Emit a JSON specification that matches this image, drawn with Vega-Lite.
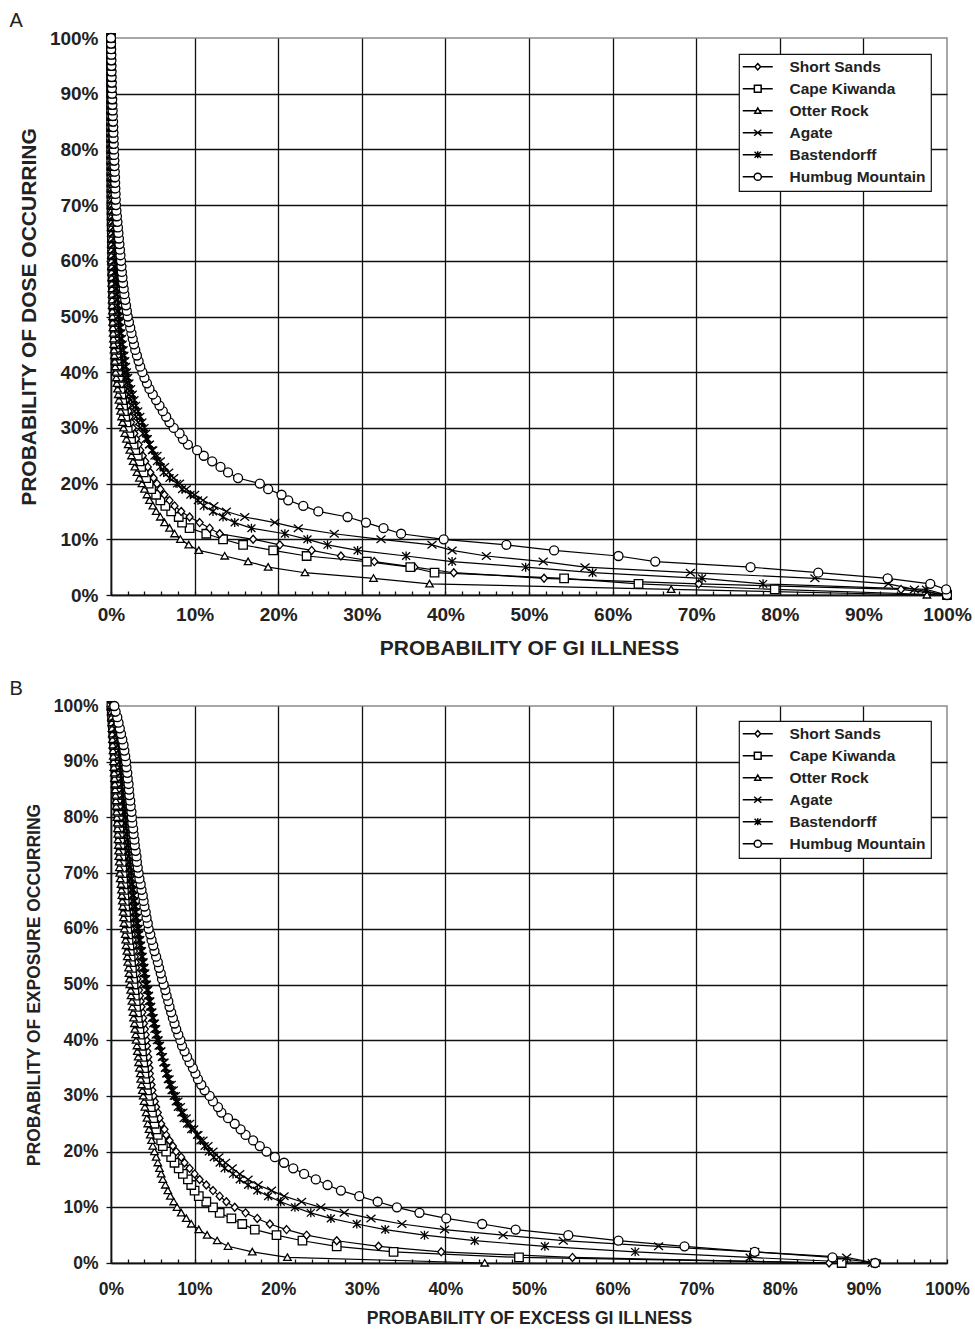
{
"$schema": "https://vega.github.io/schema/vega-lite/v6.json",
"padding": {"left": 8, "top": 9, "right": 0, "bottom": 0},
"autosize": {"type": "pad"},
"bounds": "flush",
"spacing": 111,
"config": {
  "font": "Liberation Sans",
  "view": {"stroke": "#8a8a8a", "strokeWidth": 1.5},
  "axis": {"grid": true, "gridColor": "#111", "gridWidth": 1.3, "domainColor": "#111", "domainWidth": 1.5, "tickColor": "#111", "tickWidth": 1.3, "labelColor": "#222", "titleColor": "#222", "labelFont": "Liberation Sans", "titleFont": "Liberation Sans", "titleFontWeight": "bold", "labelFontWeight": "bold"},
  "legend": {"strokeColor": "#111", "fillColor": "white", "strokeWidth": 1.2, "labelFont": "Liberation Sans", "labelFontWeight": "bold", "labelColor": "#222", "labelFontSize": 15.5, "symbolSize": 64, "padding": 5, "rowPadding": 5, "labelOffset": 30, "symbolOpacity": 1}
},
"datasets": {
"a": [
{"y":0,"Short Sands":100,"Cape Kiwanda":100,"Otter Rock":97.6,"Agate":100,"Bastendorff":100,"Humbug Mountain":100},
{"y":1,"Short Sands":94.5,"Cape Kiwanda":79.4,"Otter Rock":67.0,"Agate":96.1,"Bastendorff":97.5,"Humbug Mountain":99.9},
{"y":2,"Short Sands":70.3,"Cape Kiwanda":63.1,"Otter Rock":38.1,"Agate":93.0,"Bastendorff":78.0,"Humbug Mountain":98.0},
{"y":3,"Short Sands":51.8,"Cape Kiwanda":54.2,"Otter Rock":31.4,"Agate":84.2,"Bastendorff":70.7,"Humbug Mountain":92.9},
{"y":4,"Short Sands":41.0,"Cape Kiwanda":38.7,"Otter Rock":23.2,"Agate":69.3,"Bastendorff":57.6,"Humbug Mountain":84.6},
{"y":5,"Short Sands":36.3,"Cape Kiwanda":35.8,"Otter Rock":18.8,"Agate":56.7,"Bastendorff":49.6,"Humbug Mountain":76.5},
{"y":6,"Short Sands":31.5,"Cape Kiwanda":30.6,"Otter Rock":16.4,"Agate":51.7,"Bastendorff":40.8,"Humbug Mountain":65.1},
{"y":7,"Short Sands":27.5,"Cape Kiwanda":23.4,"Otter Rock":13.6,"Agate":44.9,"Bastendorff":35.3,"Humbug Mountain":60.7},
{"y":8,"Short Sands":24.0,"Cape Kiwanda":19.4,"Otter Rock":10.5,"Agate":40.8,"Bastendorff":29.5,"Humbug Mountain":53.0},
{"y":9,"Short Sands":20.2,"Cape Kiwanda":15.8,"Otter Rock":9.3,"Agate":38.4,"Bastendorff":25.9,"Humbug Mountain":47.3},
{"y":10,"Short Sands":17.0,"Cape Kiwanda":13.4,"Otter Rock":8.3,"Agate":32.3,"Bastendorff":23.5,"Humbug Mountain":39.8},
{"y":11,"Short Sands":13.0,"Cape Kiwanda":11.4,"Otter Rock":7.6,"Agate":26.7,"Bastendorff":20.8,"Humbug Mountain":34.7},
{"y":12,"Short Sands":11.8,"Cape Kiwanda":9.4,"Otter Rock":7.0,"Agate":22.4,"Bastendorff":16.8,"Humbug Mountain":32.6},
{"y":13,"Short Sands":10.6,"Cape Kiwanda":8.5,"Otter Rock":6.4,"Agate":19.6,"Bastendorff":14.8,"Humbug Mountain":30.5},
{"y":14,"Short Sands":9.4,"Cape Kiwanda":8.1,"Otter Rock":5.9,"Agate":16.0,"Bastendorff":13.4,"Humbug Mountain":28.3},
{"y":15,"Short Sands":8.4,"Cape Kiwanda":7.2,"Otter Rock":5.4,"Agate":13.8,"Bastendorff":12.2,"Humbug Mountain":24.8},
{"y":16,"Short Sands":7.6,"Cape Kiwanda":6.5,"Otter Rock":5.0,"Agate":12.3,"Bastendorff":11.1,"Humbug Mountain":23.0},
{"y":17,"Short Sands":7.0,"Cape Kiwanda":5.9,"Otter Rock":4.6,"Agate":11.0,"Bastendorff":10.4,"Humbug Mountain":21.2},
{"y":18,"Short Sands":6.4,"Cape Kiwanda":5.4,"Otter Rock":4.3,"Agate":10.0,"Bastendorff":9.5,"Humbug Mountain":20.4},
{"y":19,"Short Sands":5.9,"Cape Kiwanda":4.8,"Otter Rock":4.0,"Agate":9.0,"Bastendorff":8.5,"Humbug Mountain":18.8},
{"y":20,"Short Sands":5.5,"Cape Kiwanda":4.5,"Otter Rock":3.7,"Agate":8.2,"Bastendorff":7.9,"Humbug Mountain":17.8},
{"y":21,"Short Sands":5.1,"Cape Kiwanda":4.2,"Otter Rock":3.4,"Agate":7.5,"Bastendorff":7.0,"Humbug Mountain":15.2},
{"y":22,"Short Sands":4.7,"Cape Kiwanda":3.9,"Otter Rock":3.1,"Agate":6.9,"Bastendorff":6.3,"Humbug Mountain":14.0},
{"y":23,"Short Sands":4.4,"Cape Kiwanda":3.6,"Otter Rock":2.85,"Agate":6.4,"Bastendorff":5.9,"Humbug Mountain":13.1},
{"y":24,"Short Sands":4.1,"Cape Kiwanda":3.4,"Otter Rock":2.65,"Agate":5.9,"Bastendorff":5.5,"Humbug Mountain":12.1},
{"y":25,"Short Sands":3.8,"Cape Kiwanda":3.2,"Otter Rock":2.45,"Agate":5.5,"Bastendorff":5.2,"Humbug Mountain":11.1},
{"y":26,"Short Sands":3.5,"Cape Kiwanda":2.9,"Otter Rock":2.25,"Agate":5.0,"Bastendorff":4.9,"Humbug Mountain":10.3},
{"y":27,"Short Sands":3.3,"Cape Kiwanda":2.7,"Otter Rock":2.05,"Agate":4.6,"Bastendorff":4.6,"Humbug Mountain":9.2},
{"y":28,"Short Sands":3.0,"Cape Kiwanda":2.4,"Otter Rock":1.85,"Agate":4.2,"Bastendorff":4.4,"Humbug Mountain":8.6},
{"y":29,"Short Sands":2.8,"Cape Kiwanda":2.2,"Otter Rock":1.65,"Agate":3.85,"Bastendorff":4.2,"Humbug Mountain":8.2},
{"y":30,"Short Sands":2.6,"Cape Kiwanda":2.0,"Otter Rock":1.5,"Agate":3.5,"Bastendorff":4.0,"Humbug Mountain":7.5},
{"y":31,"Short Sands":2.4,"Cape Kiwanda":1.85,"Otter Rock":1.38,"Agate":3.25,"Bastendorff":3.75,"Humbug Mountain":7.0},
{"y":32,"Short Sands":2.25,"Cape Kiwanda":1.7,"Otter Rock":1.26,"Agate":3.0,"Bastendorff":3.5,"Humbug Mountain":6.6},
{"y":33,"Short Sands":2.1,"Cape Kiwanda":1.55,"Otter Rock":1.15,"Agate":2.8,"Bastendorff":3.25,"Humbug Mountain":6.2},
{"y":34,"Short Sands":1.95,"Cape Kiwanda":1.45,"Otter Rock":1.05,"Agate":2.6,"Bastendorff":3.0,"Humbug Mountain":5.8},
{"y":35,"Short Sands":1.8,"Cape Kiwanda":1.35,"Otter Rock":0.95,"Agate":2.4,"Bastendorff":2.8,"Humbug Mountain":5.4},
{"y":36,"Short Sands":1.65,"Cape Kiwanda":1.25,"Otter Rock":0.86,"Agate":2.2,"Bastendorff":2.6,"Humbug Mountain":5.0},
{"y":37,"Short Sands":1.5,"Cape Kiwanda":1.15,"Otter Rock":0.78,"Agate":2.05,"Bastendorff":2.4,"Humbug Mountain":4.6},
{"y":38,"Short Sands":1.4,"Cape Kiwanda":1.05,"Otter Rock":0.7,"Agate":1.9,"Bastendorff":2.2,"Humbug Mountain":4.3},
{"y":39,"Short Sands":1.25,"Cape Kiwanda":0.95,"Otter Rock":0.63,"Agate":1.75,"Bastendorff":2.05,"Humbug Mountain":4.0},
{"y":40,"Short Sands":1.15,"Cape Kiwanda":0.85,"Otter Rock":0.56,"Agate":1.6,"Bastendorff":1.9,"Humbug Mountain":3.75},
{"y":41,"Short Sands":1.05,"Cape Kiwanda":0.78,"Otter Rock":0.5,"Agate":1.5,"Bastendorff":1.8,"Humbug Mountain":3.5},
{"y":42,"Short Sands":0.97,"Cape Kiwanda":0.71,"Otter Rock":0.45,"Agate":1.4,"Bastendorff":1.7,"Humbug Mountain":3.3},
{"y":43,"Short Sands":0.9,"Cape Kiwanda":0.65,"Otter Rock":0.4,"Agate":1.3,"Bastendorff":1.6,"Humbug Mountain":3.1},
{"y":44,"Short Sands":0.83,"Cape Kiwanda":0.59,"Otter Rock":0.36,"Agate":1.2,"Bastendorff":1.5,"Humbug Mountain":2.9},
{"y":45,"Short Sands":0.76,"Cape Kiwanda":0.54,"Otter Rock":0.32,"Agate":1.12,"Bastendorff":1.4,"Humbug Mountain":2.75},
{"y":46,"Short Sands":0.7,"Cape Kiwanda":0.49,"Otter Rock":0.29,"Agate":1.04,"Bastendorff":1.3,"Humbug Mountain":2.6},
{"y":47,"Short Sands":0.64,"Cape Kiwanda":0.45,"Otter Rock":0.26,"Agate":0.97,"Bastendorff":1.22,"Humbug Mountain":2.45},
{"y":48,"Short Sands":0.59,"Cape Kiwanda":0.41,"Otter Rock":0.23,"Agate":0.9,"Bastendorff":1.14,"Humbug Mountain":2.3},
{"y":49,"Short Sands":0.54,"Cape Kiwanda":0.38,"Otter Rock":0.2,"Agate":0.85,"Bastendorff":1.07,"Humbug Mountain":2.15},
{"y":50,"Short Sands":0.5,"Cape Kiwanda":0.35,"Otter Rock":0.18,"Agate":0.8,"Bastendorff":1.0,"Humbug Mountain":2.0},
{"y":51,"Short Sands":0.46,"Cape Kiwanda":0.32,"Otter Rock":0.16,"Agate":0.75,"Bastendorff":0.94,"Humbug Mountain":1.9},
{"y":52,"Short Sands":0.43,"Cape Kiwanda":0.29,"Otter Rock":0.14,"Agate":0.7,"Bastendorff":0.88,"Humbug Mountain":1.8},
{"y":53,"Short Sands":0.4,"Cape Kiwanda":0.27,"Otter Rock":0.13,"Agate":0.65,"Bastendorff":0.82,"Humbug Mountain":1.7},
{"y":54,"Short Sands":0.37,"Cape Kiwanda":0.25,"Otter Rock":0.12,"Agate":0.61,"Bastendorff":0.76,"Humbug Mountain":1.6},
{"y":55,"Short Sands":0.34,"Cape Kiwanda":0.23,"Otter Rock":0.1,"Agate":0.57,"Bastendorff":0.71,"Humbug Mountain":1.52},
{"y":56,"Short Sands":0.32,"Cape Kiwanda":0.21,"Otter Rock":0.09,"Agate":0.53,"Bastendorff":0.66,"Humbug Mountain":1.44},
{"y":57,"Short Sands":0.3,"Cape Kiwanda":0.19,"Otter Rock":0.08,"Agate":0.5,"Bastendorff":0.62,"Humbug Mountain":1.37},
{"y":58,"Short Sands":0.28,"Cape Kiwanda":0.17,"Otter Rock":0.07,"Agate":0.46,"Bastendorff":0.57,"Humbug Mountain":1.3},
{"y":59,"Short Sands":0.26,"Cape Kiwanda":0.16,"Otter Rock":0.07,"Agate":0.43,"Bastendorff":0.53,"Humbug Mountain":1.25},
{"y":60,"Short Sands":0.24,"Cape Kiwanda":0.15,"Otter Rock":0.06,"Agate":0.4,"Bastendorff":0.5,"Humbug Mountain":1.2},
{"y":61,"Short Sands":0.22,"Cape Kiwanda":0.14,"Otter Rock":0.05,"Agate":0.38,"Bastendorff":0.47,"Humbug Mountain":1.13},
{"y":62,"Short Sands":0.2,"Cape Kiwanda":0.13,"Otter Rock":0.05,"Agate":0.35,"Bastendorff":0.44,"Humbug Mountain":1.07},
{"y":63,"Short Sands":0.19,"Cape Kiwanda":0.12,"Otter Rock":0.04,"Agate":0.33,"Bastendorff":0.41,"Humbug Mountain":1.01},
{"y":64,"Short Sands":0.17,"Cape Kiwanda":0.11,"Otter Rock":0.04,"Agate":0.31,"Bastendorff":0.38,"Humbug Mountain":0.95},
{"y":65,"Short Sands":0.16,"Cape Kiwanda":0.1,"Otter Rock":0.04,"Agate":0.29,"Bastendorff":0.36,"Humbug Mountain":0.89},
{"y":66,"Short Sands":0.15,"Cape Kiwanda":0.09,"Otter Rock":0.03,"Agate":0.27,"Bastendorff":0.33,"Humbug Mountain":0.83},
{"y":67,"Short Sands":0.14,"Cape Kiwanda":0.08,"Otter Rock":0.03,"Agate":0.25,"Bastendorff":0.31,"Humbug Mountain":0.77},
{"y":68,"Short Sands":0.13,"Cape Kiwanda":0.08,"Otter Rock":0.03,"Agate":0.23,"Bastendorff":0.29,"Humbug Mountain":0.71},
{"y":69,"Short Sands":0.12,"Cape Kiwanda":0.07,"Otter Rock":0.02,"Agate":0.21,"Bastendorff":0.27,"Humbug Mountain":0.65},
{"y":70,"Short Sands":0.11,"Cape Kiwanda":0.06,"Otter Rock":0.02,"Agate":0.2,"Bastendorff":0.25,"Humbug Mountain":0.6},
{"y":71,"Short Sands":0.1,"Cape Kiwanda":0.06,"Otter Rock":0.02,"Agate":0.19,"Bastendorff":0.24,"Humbug Mountain":0.57},
{"y":72,"Short Sands":0.09,"Cape Kiwanda":0.05,"Otter Rock":0.02,"Agate":0.18,"Bastendorff":0.22,"Humbug Mountain":0.55},
{"y":73,"Short Sands":0.09,"Cape Kiwanda":0.05,"Otter Rock":0.02,"Agate":0.17,"Bastendorff":0.21,"Humbug Mountain":0.52},
{"y":74,"Short Sands":0.08,"Cape Kiwanda":0.05,"Otter Rock":0.01,"Agate":0.16,"Bastendorff":0.2,"Humbug Mountain":0.5},
{"y":75,"Short Sands":0.07,"Cape Kiwanda":0.04,"Otter Rock":0.01,"Agate":0.15,"Bastendorff":0.18,"Humbug Mountain":0.48},
{"y":76,"Short Sands":0.07,"Cape Kiwanda":0.04,"Otter Rock":0.01,"Agate":0.14,"Bastendorff":0.17,"Humbug Mountain":0.45},
{"y":77,"Short Sands":0.06,"Cape Kiwanda":0.04,"Otter Rock":0.01,"Agate":0.13,"Bastendorff":0.16,"Humbug Mountain":0.42},
{"y":78,"Short Sands":0.06,"Cape Kiwanda":0.03,"Otter Rock":0.01,"Agate":0.12,"Bastendorff":0.15,"Humbug Mountain":0.4},
{"y":79,"Short Sands":0.05,"Cape Kiwanda":0.03,"Otter Rock":0.01,"Agate":0.11,"Bastendorff":0.13,"Humbug Mountain":0.37},
{"y":80,"Short Sands":0.05,"Cape Kiwanda":0.03,"Otter Rock":0.01,"Agate":0.1,"Bastendorff":0.12,"Humbug Mountain":0.35},
{"y":81,"Short Sands":0.04,"Cape Kiwanda":0.03,"Otter Rock":0.01,"Agate":0.09,"Bastendorff":0.11,"Humbug Mountain":0.33},
{"y":82,"Short Sands":0.04,"Cape Kiwanda":0.02,"Otter Rock":0.01,"Agate":0.09,"Bastendorff":0.1,"Humbug Mountain":0.31},
{"y":83,"Short Sands":0.03,"Cape Kiwanda":0.02,"Otter Rock":0.01,"Agate":0.08,"Bastendorff":0.1,"Humbug Mountain":0.29},
{"y":84,"Short Sands":0.03,"Cape Kiwanda":0.02,"Otter Rock":0.01,"Agate":0.08,"Bastendorff":0.09,"Humbug Mountain":0.27},
{"y":85,"Short Sands":0.03,"Cape Kiwanda":0.02,"Otter Rock":0.01,"Agate":0.07,"Bastendorff":0.08,"Humbug Mountain":0.25},
{"y":86,"Short Sands":0.02,"Cape Kiwanda":0.02,"Otter Rock":0.01,"Agate":0.07,"Bastendorff":0.07,"Humbug Mountain":0.22},
{"y":87,"Short Sands":0.02,"Cape Kiwanda":0.01,"Otter Rock":0.01,"Agate":0.06,"Bastendorff":0.07,"Humbug Mountain":0.2},
{"y":88,"Short Sands":0.02,"Cape Kiwanda":0.01,"Otter Rock":0.01,"Agate":0.06,"Bastendorff":0.06,"Humbug Mountain":0.17},
{"y":89,"Short Sands":0.02,"Cape Kiwanda":0.01,"Otter Rock":0.01,"Agate":0.05,"Bastendorff":0.05,"Humbug Mountain":0.15},
{"y":90,"Short Sands":0.01,"Cape Kiwanda":0.01,"Otter Rock":0,"Agate":0.05,"Bastendorff":0.05,"Humbug Mountain":0.12},
{"y":91,"Short Sands":0.01,"Cape Kiwanda":0.01,"Otter Rock":0,"Agate":0.04,"Bastendorff":0.04,"Humbug Mountain":0.11},
{"y":92,"Short Sands":0.01,"Cape Kiwanda":0.01,"Otter Rock":0,"Agate":0.04,"Bastendorff":0.04,"Humbug Mountain":0.1},
{"y":93,"Short Sands":0.01,"Cape Kiwanda":0.01,"Otter Rock":0,"Agate":0.03,"Bastendorff":0.03,"Humbug Mountain":0.08},
{"y":94,"Short Sands":0.01,"Cape Kiwanda":0.01,"Otter Rock":0,"Agate":0.03,"Bastendorff":0.03,"Humbug Mountain":0.07},
{"y":95,"Short Sands":0.01,"Cape Kiwanda":0,"Otter Rock":0,"Agate":0.02,"Bastendorff":0.02,"Humbug Mountain":0.06},
{"y":96,"Short Sands":0.01,"Cape Kiwanda":0,"Otter Rock":0,"Agate":0.02,"Bastendorff":0.02,"Humbug Mountain":0.05},
{"y":97,"Short Sands":0.01,"Cape Kiwanda":0,"Otter Rock":0,"Agate":0.01,"Bastendorff":0.01,"Humbug Mountain":0.04},
{"y":98,"Short Sands":0.01,"Cape Kiwanda":0,"Otter Rock":0,"Agate":0.01,"Bastendorff":0.01,"Humbug Mountain":0.02},
{"y":99,"Short Sands":0.01,"Cape Kiwanda":0,"Otter Rock":0,"Agate":0.01,"Bastendorff":0.01,"Humbug Mountain":0.01},
{"y":100,"Short Sands":0,"Cape Kiwanda":0,"Otter Rock":0,"Agate":0,"Bastendorff":0,"Humbug Mountain":0}
],
"b": [
{"y":0,"Short Sands":85.9,"Cape Kiwanda":87.4,"Otter Rock":44.7,"Agate":91.4,"Bastendorff":91.0,"Humbug Mountain":91.4},
{"y":1,"Short Sands":55.2,"Cape Kiwanda":48.8,"Otter Rock":21.1,"Agate":88.0,"Bastendorff":76.4,"Humbug Mountain":86.3},
{"y":2,"Short Sands":39.5,"Cape Kiwanda":33.8,"Otter Rock":16.9,"Agate":77.0,"Bastendorff":62.7,"Humbug Mountain":77.0},
{"y":3,"Short Sands":32.0,"Cape Kiwanda":27.0,"Otter Rock":14.0,"Agate":65.5,"Bastendorff":51.9,"Humbug Mountain":68.6},
{"y":4,"Short Sands":27.0,"Cape Kiwanda":22.9,"Otter Rock":12.7,"Agate":54.1,"Bastendorff":43.5,"Humbug Mountain":60.7},
{"y":5,"Short Sands":23.4,"Cape Kiwanda":19.8,"Otter Rock":11.5,"Agate":46.9,"Bastendorff":37.5,"Humbug Mountain":54.7},
{"y":6,"Short Sands":21.0,"Cape Kiwanda":17.2,"Otter Rock":10.5,"Agate":39.9,"Bastendorff":32.8,"Humbug Mountain":48.4},
{"y":7,"Short Sands":19.0,"Cape Kiwanda":15.7,"Otter Rock":9.6,"Agate":34.8,"Bastendorff":29.4,"Humbug Mountain":44.4},
{"y":8,"Short Sands":17.5,"Cape Kiwanda":14.4,"Otter Rock":9.0,"Agate":31.1,"Bastendorff":26.3,"Humbug Mountain":40.1},
{"y":9,"Short Sands":16.1,"Cape Kiwanda":13.0,"Otter Rock":8.4,"Agate":27.9,"Bastendorff":23.9,"Humbug Mountain":36.9},
{"y":10,"Short Sands":14.8,"Cape Kiwanda":12.2,"Otter Rock":7.9,"Agate":25.1,"Bastendorff":22.0,"Humbug Mountain":34.2},
{"y":11,"Short Sands":13.8,"Cape Kiwanda":11.4,"Otter Rock":7.5,"Agate":22.8,"Bastendorff":20.3,"Humbug Mountain":31.9},
{"y":12,"Short Sands":13.0,"Cape Kiwanda":10.5,"Otter Rock":7.1,"Agate":20.7,"Bastendorff":18.8,"Humbug Mountain":29.7},
{"y":13,"Short Sands":12.2,"Cape Kiwanda":10.0,"Otter Rock":6.8,"Agate":19.2,"Bastendorff":17.5,"Humbug Mountain":27.5},
{"y":14,"Short Sands":11.4,"Cape Kiwanda":9.6,"Otter Rock":6.5,"Agate":17.6,"Bastendorff":16.4,"Humbug Mountain":25.9},
{"y":15,"Short Sands":10.6,"Cape Kiwanda":9.2,"Otter Rock":6.2,"Agate":16.4,"Bastendorff":15.4,"Humbug Mountain":24.5},
{"y":16,"Short Sands":10.0,"Cape Kiwanda":8.6,"Otter Rock":6.0,"Agate":15.4,"Bastendorff":14.6,"Humbug Mountain":23.1},
{"y":17,"Short Sands":9.4,"Cape Kiwanda":8.1,"Otter Rock":5.8,"Agate":14.5,"Bastendorff":13.6,"Humbug Mountain":21.8},
{"y":18,"Short Sands":8.8,"Cape Kiwanda":7.6,"Otter Rock":5.6,"Agate":13.7,"Bastendorff":13.0,"Humbug Mountain":20.7},
{"y":19,"Short Sands":8.4,"Cape Kiwanda":7.2,"Otter Rock":5.4,"Agate":12.9,"Bastendorff":12.3,"Humbug Mountain":19.6},
{"y":20,"Short Sands":7.8,"Cape Kiwanda":6.6,"Otter Rock":5.2,"Agate":12.2,"Bastendorff":11.7,"Humbug Mountain":18.6},
{"y":21,"Short Sands":7.4,"Cape Kiwanda":6.2,"Otter Rock":5.0,"Agate":11.6,"Bastendorff":11.2,"Humbug Mountain":17.8},
{"y":22,"Short Sands":7.0,"Cape Kiwanda":6.0,"Otter Rock":4.85,"Agate":11.0,"Bastendorff":10.7,"Humbug Mountain":17.0},
{"y":23,"Short Sands":6.6,"Cape Kiwanda":5.6,"Otter Rock":4.7,"Agate":10.4,"Bastendorff":10.3,"Humbug Mountain":16.1},
{"y":24,"Short Sands":6.4,"Cape Kiwanda":5.4,"Otter Rock":4.55,"Agate":9.9,"Bastendorff":9.6,"Humbug Mountain":15.5},
{"y":25,"Short Sands":6.0,"Cape Kiwanda":5.2,"Otter Rock":4.4,"Agate":9.4,"Bastendorff":9.1,"Humbug Mountain":14.8},
{"y":26,"Short Sands":5.8,"Cape Kiwanda":5.05,"Otter Rock":4.3,"Agate":9.0,"Bastendorff":8.7,"Humbug Mountain":14.0},
{"y":27,"Short Sands":5.6,"Cape Kiwanda":4.9,"Otter Rock":4.2,"Agate":8.6,"Bastendorff":8.4,"Humbug Mountain":13.2},
{"y":28,"Short Sands":5.4,"Cape Kiwanda":4.75,"Otter Rock":4.05,"Agate":8.3,"Bastendorff":8.0,"Humbug Mountain":12.8},
{"y":29,"Short Sands":5.25,"Cape Kiwanda":4.55,"Otter Rock":3.95,"Agate":8.0,"Bastendorff":7.75,"Humbug Mountain":12.2},
{"y":30,"Short Sands":5.1,"Cape Kiwanda":4.4,"Otter Rock":3.85,"Agate":7.7,"Bastendorff":7.5,"Humbug Mountain":11.8},
{"y":31,"Short Sands":4.95,"Cape Kiwanda":4.3,"Otter Rock":3.75,"Agate":7.45,"Bastendorff":7.25,"Humbug Mountain":11.2},
{"y":32,"Short Sands":4.85,"Cape Kiwanda":4.2,"Otter Rock":3.65,"Agate":7.2,"Bastendorff":7.0,"Humbug Mountain":10.8},
{"y":33,"Short Sands":4.75,"Cape Kiwanda":4.1,"Otter Rock":3.55,"Agate":6.95,"Bastendorff":6.8,"Humbug Mountain":10.4},
{"y":34,"Short Sands":4.65,"Cape Kiwanda":4.0,"Otter Rock":3.5,"Agate":6.75,"Bastendorff":6.6,"Humbug Mountain":10.1},
{"y":35,"Short Sands":4.6,"Cape Kiwanda":3.95,"Otter Rock":3.4,"Agate":6.55,"Bastendorff":6.45,"Humbug Mountain":9.8},
{"y":36,"Short Sands":4.5,"Cape Kiwanda":3.85,"Otter Rock":3.3,"Agate":6.35,"Bastendorff":6.3,"Humbug Mountain":9.4},
{"y":37,"Short Sands":4.45,"Cape Kiwanda":3.75,"Otter Rock":3.25,"Agate":6.15,"Bastendorff":6.15,"Humbug Mountain":9.1},
{"y":38,"Short Sands":4.35,"Cape Kiwanda":3.7,"Otter Rock":3.15,"Agate":5.95,"Bastendorff":6.0,"Humbug Mountain":8.8},
{"y":39,"Short Sands":4.3,"Cape Kiwanda":3.6,"Otter Rock":3.1,"Agate":5.75,"Bastendorff":5.85,"Humbug Mountain":8.5},
{"y":40,"Short Sands":4.25,"Cape Kiwanda":3.55,"Otter Rock":3.0,"Agate":5.55,"Bastendorff":5.7,"Humbug Mountain":8.3},
{"y":41,"Short Sands":4.15,"Cape Kiwanda":3.45,"Otter Rock":2.95,"Agate":5.4,"Bastendorff":5.55,"Humbug Mountain":8.05},
{"y":42,"Short Sands":4.05,"Cape Kiwanda":3.4,"Otter Rock":2.85,"Agate":5.25,"Bastendorff":5.4,"Humbug Mountain":7.8},
{"y":43,"Short Sands":3.95,"Cape Kiwanda":3.3,"Otter Rock":2.8,"Agate":5.1,"Bastendorff":5.25,"Humbug Mountain":7.6},
{"y":44,"Short Sands":3.85,"Cape Kiwanda":3.2,"Otter Rock":2.7,"Agate":4.95,"Bastendorff":5.1,"Humbug Mountain":7.4},
{"y":45,"Short Sands":3.75,"Cape Kiwanda":3.1,"Otter Rock":2.65,"Agate":4.8,"Bastendorff":4.95,"Humbug Mountain":7.2},
{"y":46,"Short Sands":3.65,"Cape Kiwanda":3.0,"Otter Rock":2.55,"Agate":4.7,"Bastendorff":4.8,"Humbug Mountain":7.0},
{"y":47,"Short Sands":3.55,"Cape Kiwanda":2.95,"Otter Rock":2.5,"Agate":4.55,"Bastendorff":4.7,"Humbug Mountain":6.85},
{"y":48,"Short Sands":3.45,"Cape Kiwanda":2.85,"Otter Rock":2.4,"Agate":4.45,"Bastendorff":4.55,"Humbug Mountain":6.65},
{"y":49,"Short Sands":3.35,"Cape Kiwanda":2.8,"Otter Rock":2.35,"Agate":4.3,"Bastendorff":4.45,"Humbug Mountain":6.5},
{"y":50,"Short Sands":3.25,"Cape Kiwanda":2.7,"Otter Rock":2.25,"Agate":4.15,"Bastendorff":4.3,"Humbug Mountain":6.3},
{"y":51,"Short Sands":3.15,"Cape Kiwanda":2.65,"Otter Rock":2.2,"Agate":4.05,"Bastendorff":4.2,"Humbug Mountain":6.1},
{"y":52,"Short Sands":3.1,"Cape Kiwanda":2.55,"Otter Rock":2.15,"Agate":3.95,"Bastendorff":4.1,"Humbug Mountain":5.95},
{"y":53,"Short Sands":3.0,"Cape Kiwanda":2.5,"Otter Rock":2.1,"Agate":3.85,"Bastendorff":4.0,"Humbug Mountain":5.75},
{"y":54,"Short Sands":2.95,"Cape Kiwanda":2.4,"Otter Rock":2.0,"Agate":3.75,"Bastendorff":3.9,"Humbug Mountain":5.6},
{"y":55,"Short Sands":2.85,"Cape Kiwanda":2.35,"Otter Rock":1.95,"Agate":3.65,"Bastendorff":3.8,"Humbug Mountain":5.4},
{"y":56,"Short Sands":2.75,"Cape Kiwanda":2.25,"Otter Rock":1.9,"Agate":3.55,"Bastendorff":3.7,"Humbug Mountain":5.2},
{"y":57,"Short Sands":2.7,"Cape Kiwanda":2.2,"Otter Rock":1.8,"Agate":3.45,"Bastendorff":3.6,"Humbug Mountain":5.05},
{"y":58,"Short Sands":2.6,"Cape Kiwanda":2.1,"Otter Rock":1.75,"Agate":3.35,"Bastendorff":3.5,"Humbug Mountain":4.85},
{"y":59,"Short Sands":2.5,"Cape Kiwanda":2.05,"Otter Rock":1.7,"Agate":3.25,"Bastendorff":3.4,"Humbug Mountain":4.7},
{"y":60,"Short Sands":2.4,"Cape Kiwanda":1.95,"Otter Rock":1.6,"Agate":3.15,"Bastendorff":3.3,"Humbug Mountain":4.5},
{"y":61,"Short Sands":2.35,"Cape Kiwanda":1.9,"Otter Rock":1.55,"Agate":3.05,"Bastendorff":3.2,"Humbug Mountain":4.4},
{"y":62,"Short Sands":2.3,"Cape Kiwanda":1.85,"Otter Rock":1.5,"Agate":2.95,"Bastendorff":3.1,"Humbug Mountain":4.25},
{"y":63,"Short Sands":2.25,"Cape Kiwanda":1.8,"Otter Rock":1.45,"Agate":2.9,"Bastendorff":3.0,"Humbug Mountain":4.15},
{"y":64,"Short Sands":2.15,"Cape Kiwanda":1.7,"Otter Rock":1.4,"Agate":2.8,"Bastendorff":2.95,"Humbug Mountain":4.0},
{"y":65,"Short Sands":2.1,"Cape Kiwanda":1.65,"Otter Rock":1.35,"Agate":2.7,"Bastendorff":2.85,"Humbug Mountain":3.9},
{"y":66,"Short Sands":2.05,"Cape Kiwanda":1.6,"Otter Rock":1.3,"Agate":2.65,"Bastendorff":2.75,"Humbug Mountain":3.8},
{"y":67,"Short Sands":1.95,"Cape Kiwanda":1.55,"Otter Rock":1.25,"Agate":2.55,"Bastendorff":2.7,"Humbug Mountain":3.65},
{"y":68,"Short Sands":1.9,"Cape Kiwanda":1.5,"Otter Rock":1.2,"Agate":2.5,"Bastendorff":2.6,"Humbug Mountain":3.55},
{"y":69,"Short Sands":1.8,"Cape Kiwanda":1.45,"Otter Rock":1.1,"Agate":2.4,"Bastendorff":2.5,"Humbug Mountain":3.4},
{"y":70,"Short Sands":1.75,"Cape Kiwanda":1.4,"Otter Rock":1.05,"Agate":2.35,"Bastendorff":2.45,"Humbug Mountain":3.3},
{"y":71,"Short Sands":1.7,"Cape Kiwanda":1.35,"Otter Rock":1.0,"Agate":2.25,"Bastendorff":2.35,"Humbug Mountain":3.2},
{"y":72,"Short Sands":1.65,"Cape Kiwanda":1.3,"Otter Rock":0.97,"Agate":2.2,"Bastendorff":2.3,"Humbug Mountain":3.1},
{"y":73,"Short Sands":1.6,"Cape Kiwanda":1.25,"Otter Rock":0.93,"Agate":2.15,"Bastendorff":2.2,"Humbug Mountain":3.05},
{"y":74,"Short Sands":1.55,"Cape Kiwanda":1.2,"Otter Rock":0.9,"Agate":2.05,"Bastendorff":2.15,"Humbug Mountain":2.95},
{"y":75,"Short Sands":1.5,"Cape Kiwanda":1.15,"Otter Rock":0.87,"Agate":2.0,"Bastendorff":2.1,"Humbug Mountain":2.85},
{"y":76,"Short Sands":1.45,"Cape Kiwanda":1.1,"Otter Rock":0.83,"Agate":1.95,"Bastendorff":2.0,"Humbug Mountain":2.8},
{"y":77,"Short Sands":1.4,"Cape Kiwanda":1.05,"Otter Rock":0.8,"Agate":1.85,"Bastendorff":1.95,"Humbug Mountain":2.7},
{"y":78,"Short Sands":1.3,"Cape Kiwanda":1.0,"Otter Rock":0.77,"Agate":1.8,"Bastendorff":1.85,"Humbug Mountain":2.65},
{"y":79,"Short Sands":1.25,"Cape Kiwanda":0.98,"Otter Rock":0.73,"Agate":1.7,"Bastendorff":1.8,"Humbug Mountain":2.55},
{"y":80,"Short Sands":1.2,"Cape Kiwanda":0.95,"Otter Rock":0.7,"Agate":1.65,"Bastendorff":1.75,"Humbug Mountain":2.5},
{"y":81,"Short Sands":1.15,"Cape Kiwanda":0.9,"Otter Rock":0.66,"Agate":1.6,"Bastendorff":1.7,"Humbug Mountain":2.45},
{"y":82,"Short Sands":1.1,"Cape Kiwanda":0.85,"Otter Rock":0.62,"Agate":1.55,"Bastendorff":1.6,"Humbug Mountain":2.35},
{"y":83,"Short Sands":1.05,"Cape Kiwanda":0.8,"Otter Rock":0.58,"Agate":1.45,"Bastendorff":1.55,"Humbug Mountain":2.3},
{"y":84,"Short Sands":1.0,"Cape Kiwanda":0.76,"Otter Rock":0.54,"Agate":1.4,"Bastendorff":1.5,"Humbug Mountain":2.2},
{"y":85,"Short Sands":0.95,"Cape Kiwanda":0.72,"Otter Rock":0.5,"Agate":1.35,"Bastendorff":1.4,"Humbug Mountain":2.15},
{"y":86,"Short Sands":0.9,"Cape Kiwanda":0.68,"Otter Rock":0.46,"Agate":1.3,"Bastendorff":1.35,"Humbug Mountain":2.1},
{"y":87,"Short Sands":0.85,"Cape Kiwanda":0.63,"Otter Rock":0.42,"Agate":1.2,"Bastendorff":1.3,"Humbug Mountain":2.0},
{"y":88,"Short Sands":0.8,"Cape Kiwanda":0.59,"Otter Rock":0.38,"Agate":1.15,"Bastendorff":1.2,"Humbug Mountain":1.95},
{"y":89,"Short Sands":0.75,"Cape Kiwanda":0.54,"Otter Rock":0.34,"Agate":1.05,"Bastendorff":1.15,"Humbug Mountain":1.85},
{"y":90,"Short Sands":0.7,"Cape Kiwanda":0.5,"Otter Rock":0.3,"Agate":1.0,"Bastendorff":1.1,"Humbug Mountain":1.8},
{"y":91,"Short Sands":0.65,"Cape Kiwanda":0.46,"Otter Rock":0.27,"Agate":0.95,"Bastendorff":1.0,"Humbug Mountain":1.7},
{"y":92,"Short Sands":0.6,"Cape Kiwanda":0.42,"Otter Rock":0.24,"Agate":0.88,"Bastendorff":0.95,"Humbug Mountain":1.6},
{"y":93,"Short Sands":0.55,"Cape Kiwanda":0.37,"Otter Rock":0.21,"Agate":0.8,"Bastendorff":0.88,"Humbug Mountain":1.5},
{"y":94,"Short Sands":0.5,"Cape Kiwanda":0.33,"Otter Rock":0.18,"Agate":0.72,"Bastendorff":0.8,"Humbug Mountain":1.35},
{"y":95,"Short Sands":0.45,"Cape Kiwanda":0.28,"Otter Rock":0.15,"Agate":0.64,"Bastendorff":0.72,"Humbug Mountain":1.2},
{"y":96,"Short Sands":0.38,"Cape Kiwanda":0.23,"Otter Rock":0.12,"Agate":0.55,"Bastendorff":0.63,"Humbug Mountain":1.05},
{"y":97,"Short Sands":0.3,"Cape Kiwanda":0.18,"Otter Rock":0.09,"Agate":0.46,"Bastendorff":0.54,"Humbug Mountain":0.9},
{"y":98,"Short Sands":0.23,"Cape Kiwanda":0.13,"Otter Rock":0.06,"Agate":0.37,"Bastendorff":0.44,"Humbug Mountain":0.75},
{"y":99,"Short Sands":0.16,"Cape Kiwanda":0.09,"Otter Rock":0.03,"Agate":0.27,"Bastendorff":0.34,"Humbug Mountain":0.55},
{"y":100,"Short Sands":0.1,"Cape Kiwanda":0.05,"Otter Rock":0,"Agate":0.15,"Bastendorff":0.2,"Humbug Mountain":0.4}
]
},
"vconcat": [
{
  "width": 836, "height": 557,
  "title": {"text": "A", "anchor": "start", "frame": "group", "dx": -101.5, "fontSize": 20, "fontWeight": "normal", "offset": -1.7, "color": "#222"},
  "data": {"name": "a"},
  "transform": [{"fold": ["Short Sands", "Cape Kiwanda", "Otter Rock", "Agate", "Bastendorff", "Humbug Mountain"], "as": ["site", "x"]}],
  "encoding": {
    "x": {"field": "x", "type": "quantitative", "scale": {"domain": [0, 100], "nice": false},
      "axis": {"values": [0,2,4,6,8,10,12,14,16,18,20,22,24,26,28,30,32,34,36,38,40,42,44,46,48,50,52,54,56,58,60,62,64,66,68,70,72,74,76,78,80,82,84,86,88,90,92,94,96,98,100],
        "title": "PROBABILITY OF GI ILLNESS", "labelExpr": "datum.value % 10 === 0 ? datum.value + '%' : ''",
        "labelFontSize": 19, "labelPadding": 14, "labelOverlap": false, "labelFlush": false, "labelBound": false,
        "titleFontSize": 21, "titlePadding": 13, "tickSize": -4,
        "gridOpacity": {"condition": {"test": "datum.value % 10 !== 0 || datum.value === 100", "value": 0}, "value": 1}}},
    "y": {"field": "y", "type": "quantitative", "scale": {"domain": [0, 100], "nice": false},
      "axis": {"values": [0,10,20,30,40,50,60,70,80,90,100], "title": "PROBABILITY OF DOSE OCCURRING",
        "labelExpr": "datum.value + '%'", "labelFontSize": 19, "labelPadding": 8, "tickSize": 5,
        "titleFontSize": 21, "titlePadding": 10,
        "gridOpacity": {"condition": {"test": "datum.value === 100", "value": 0}, "value": 1}}}
  },
  "layer": [
    {"mark": {"type": "line", "color": "black", "strokeWidth": 1.2}, "encoding": {"detail": {"field": "site"}, "order": {"field": "y", "type": "quantitative"}}},
    {"mark": {"type": "point", "size": 64, "filled": true, "fill": "white", "stroke": "black", "strokeWidth": 1, "opacity": 0},
     "encoding": {"shape": {"field": "site", "type": "nominal",
       "scale": {"domain": ["Short Sands", "Cape Kiwanda", "Otter Rock", "Agate", "Bastendorff", "Humbug Mountain"],
                 "range": ["M-2.25,0H0.8M2.2,0H5.25M1.5,-0.8L2.2,0L1.5,0.8L0.8,0Z", "M-2.25,0H0.65M2.35,0H5.25M0.65,-0.85H2.35V0.85H0.65Z", "M-2.25,0H1.1M1.9,0H5.25M1.5,-0.7L2.25,0.6H0.75Z", "M-2.25,0H5.25M0.6,-0.75L2.4,0.75M0.6,0.75L2.4,-0.75", "M-2.25,0H5.25M0.7,-0.75L2.3,0.75M0.7,0.75L2.3,-0.75M1.5,-0.9V0.9", "M-2.25,0H0.6M2.4,0H5.25M0.6,0A0.9,0.9,0,1,1,2.4,0A0.9,0.9,0,1,1,0.6,0Z"]},
       "legend": {"title": null, "orient": "none", "legendX": 628, "legendY": 16, "symbolOpacity": 1,
         "encode": {"symbols": {"update": {"size": {"value": 64}, "fill": {"value": "white"}, "stroke": {"value": "black"}, "strokeWidth": {"value": 1}, "opacity": {"value": 1}}}}}}}},
    {"mark": {"type": "point", "size": 100, "filled": true, "fill": "white", "stroke": "black", "strokeWidth": 1.3, "opacity": 1},
     "encoding": {"shape": {"field": "site", "type": "nominal", "legend": null,
       "scale": {"domain": ["Short Sands", "Cape Kiwanda", "Otter Rock", "Agate", "Bastendorff", "Humbug Mountain"],
                 "range": ["M0,-0.8L0.7,0L0,0.8L-0.7,0Z", "M-0.85,-0.85H0.85V0.85H-0.85Z", "M0,-0.7L0.75,0.6H-0.75Z", "M-0.9,-0.75L0.9,0.75M-0.9,0.75L0.9,-0.75", "M-0.8,-0.75L0.8,0.75M-0.8,0.75L0.8,-0.75M0,-0.9V0.9", "M-0.9,0A0.9,0.9,0,1,1,0.9,0A0.9,0.9,0,1,1,-0.9,0Z"]}}}}
  ],
  "resolve": {"scale": {"shape": "independent"}, "legend": {"shape": "independent"}}
},
{
  "width": 836, "height": 557,
  "title": {"text": "B", "anchor": "start", "frame": "group", "dx": -101.5, "fontSize": 20, "fontWeight": "normal", "offset": -1.7, "color": "#222"},
  "data": {"name": "b"},
  "transform": [{"fold": ["Short Sands", "Cape Kiwanda", "Otter Rock", "Agate", "Bastendorff", "Humbug Mountain"], "as": ["site", "x"]}],
  "encoding": {
    "x": {"field": "x", "type": "quantitative", "scale": {"domain": [0, 100], "nice": false},
      "axis": {"values": [0,2,4,6,8,10,12,14,16,18,20,22,24,26,28,30,32,34,36,38,40,42,44,46,48,50,52,54,56,58,60,62,64,66,68,70,72,74,76,78,80,82,84,86,88,90,92,94,96,98,100],
        "title": "PROBABILITY OF EXCESS GI ILLNESS", "labelExpr": "datum.value % 10 === 0 ? datum.value + '%' : ''",
        "labelFontSize": 17.5, "labelPadding": 21, "labelOverlap": false, "labelFlush": false, "labelBound": false,
        "titleFontSize": 17.5, "titlePadding": 12, "tickSize": -4,
        "gridOpacity": {"condition": {"test": "datum.value % 10 !== 0 || datum.value === 100", "value": 0}, "value": 1}}},
    "y": {"field": "y", "type": "quantitative", "scale": {"domain": [0, 100], "nice": false},
      "axis": {"values": [0,10,20,30,40,50,60,70,80,90,100], "title": "PROBABILITY OF EXPOSURE OCCURRING",
        "labelExpr": "datum.value + '%'", "labelFontSize": 17.5, "labelPadding": 8, "tickSize": 5,
        "titleFontSize": 17.5, "titlePadding": 10,
        "gridOpacity": {"condition": {"test": "datum.value === 100", "value": 0}, "value": 1}}}
  },
  "layer": [
    {"mark": {"type": "line", "color": "black", "strokeWidth": 1.2}, "encoding": {"detail": {"field": "site"}, "order": {"field": "y", "type": "quantitative"}}},
    {"mark": {"type": "point", "size": 64, "filled": true, "fill": "white", "stroke": "black", "strokeWidth": 1, "opacity": 0},
     "encoding": {"shape": {"field": "site", "type": "nominal",
       "scale": {"domain": ["Short Sands", "Cape Kiwanda", "Otter Rock", "Agate", "Bastendorff", "Humbug Mountain"],
                 "range": ["M-2.25,0H0.8M2.2,0H5.25M1.5,-0.8L2.2,0L1.5,0.8L0.8,0Z", "M-2.25,0H0.65M2.35,0H5.25M0.65,-0.85H2.35V0.85H0.65Z", "M-2.25,0H1.1M1.9,0H5.25M1.5,-0.7L2.25,0.6H0.75Z", "M-2.25,0H5.25M0.6,-0.75L2.4,0.75M0.6,0.75L2.4,-0.75", "M-2.25,0H5.25M0.7,-0.75L2.3,0.75M0.7,0.75L2.3,-0.75M1.5,-0.9V0.9", "M-2.25,0H0.6M2.4,0H5.25M0.6,0A0.9,0.9,0,1,1,2.4,0A0.9,0.9,0,1,1,0.6,0Z"]},
       "legend": {"title": null, "orient": "none", "legendX": 628, "legendY": 15, "symbolOpacity": 1,
         "encode": {"symbols": {"update": {"size": {"value": 64}, "fill": {"value": "white"}, "stroke": {"value": "black"}, "strokeWidth": {"value": 1}, "opacity": {"value": 1}}}}}}}},
    {"mark": {"type": "point", "size": 100, "filled": true, "fill": "white", "stroke": "black", "strokeWidth": 1.3, "opacity": 1},
     "encoding": {"shape": {"field": "site", "type": "nominal", "legend": null,
       "scale": {"domain": ["Short Sands", "Cape Kiwanda", "Otter Rock", "Agate", "Bastendorff", "Humbug Mountain"],
                 "range": ["M0,-0.8L0.7,0L0,0.8L-0.7,0Z", "M-0.85,-0.85H0.85V0.85H-0.85Z", "M0,-0.7L0.75,0.6H-0.75Z", "M-0.9,-0.75L0.9,0.75M-0.9,0.75L0.9,-0.75", "M-0.8,-0.75L0.8,0.75M-0.8,0.75L0.8,-0.75M0,-0.9V0.9", "M-0.9,0A0.9,0.9,0,1,1,0.9,0A0.9,0.9,0,1,1,-0.9,0Z"]}}}}
  ],
  "resolve": {"scale": {"shape": "independent"}, "legend": {"shape": "independent"}}
}
],
"resolve": {"scale": {"shape": "independent"}}
}
